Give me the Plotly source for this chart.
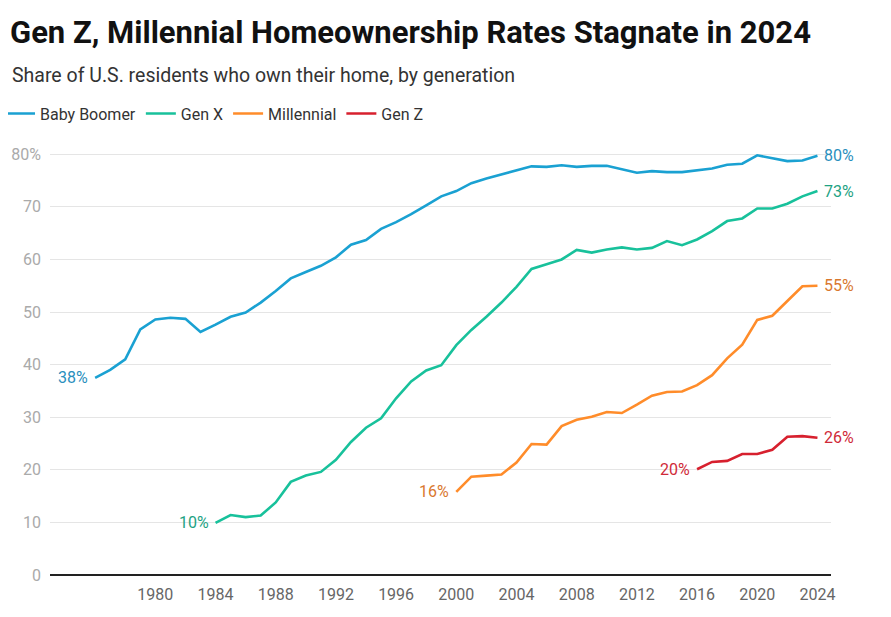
import plotly.graph_objects as go

# homeownership rate (%) by generation
boomer_years = list(range(1976, 2025))
boomer_rate = [
    37.5, 39.0, 41.0, 46.7, 48.6, 48.9, 48.7, 46.2, 47.6, 49.1,
    49.9, 51.8, 54.0, 56.4, 57.6, 58.8, 60.4, 62.8, 63.7, 65.8,
    67.1, 68.6, 70.3, 72.0, 73.0, 74.5, 75.4, 76.2, 77.0, 77.7,
    77.6, 77.9, 77.6, 77.8, 77.8, 77.1, 76.5, 76.8, 76.6, 76.6,
    77.0, 77.3, 78.0, 78.2, 79.8, 79.3, 78.7, 78.8, 79.7,
]

genx_years = list(range(1984, 2025))
genx_rate = [
    9.9, 11.4, 11.0, 11.3, 13.8, 17.7, 18.9, 19.6, 21.9, 25.3,
    28.0, 29.8, 33.6, 36.8, 38.9, 39.9, 43.7, 46.6, 49.1, 51.8,
    54.8, 58.2, 59.1, 60.0, 61.8, 61.3, 61.9, 62.3, 61.9, 62.2,
    63.5, 62.7, 63.8, 65.4, 67.3, 67.8, 69.7, 69.7, 70.6, 72.0,
    73.0,
]

millennial_years = list(range(2000, 2025))
millennial_rate = [
    15.8, 18.7, 18.9, 19.1, 21.4, 24.9, 24.8, 28.3, 29.5, 30.1,
    31.0, 30.8, 32.4, 34.1, 34.8, 34.9, 36.1, 38.0, 41.2, 43.8,
    48.5, 49.3, 52.1, 54.9, 55.0,
]

genz_years = list(range(2016, 2025))
genz_rate = [20.1, 21.5, 21.7, 23.0, 23.0, 23.8, 26.3, 26.4, 26.1]

series = [
    ("Baby Boomer", boomer_years, boomer_rate, "#1aa1d2", "#2a8fbd"),
    ("Gen X", genx_years, genx_rate, "#18c19b", "#1ea283"),
    ("Millennial", millennial_years, millennial_rate, "#ff8c2a", "#d9782e"),
    ("Gen Z", genz_years, genz_rate, "#d7202e", "#cf2a38"),
]

x_ticks = list(range(1980, 2025, 4))
y_ticks = [0, 10, 20, 30, 40, 50, 60, 70, 80]
y_ticktext = ["0", "10", "20", "30", "40", "50", "60", "70", "80%"]

fig = go.Figure()
for name, years, rate, color, label_color in series:
    fig.add_trace(
        go.Scatter(
            x=years, y=rate, mode="lines", name=name,
            line=dict(color=color, width=2.6),
        )
    )
    # start / end value labels
    fig.add_annotation(
        x=years[0], y=rate[0], text=f"{round(rate[0])}%", showarrow=False,
        xanchor="right", xshift=-5, font=dict(size=16, color=label_color),
    )
    fig.add_annotation(
        x=years[-1], y=rate[-1], text=f"{round(rate[-1])}%", showarrow=False,
        xanchor="left", xshift=5, font=dict(size=16, color=label_color),
    )

fig.add_annotation(
    xref="paper", yref="paper", x=-0.0515, y=1.173, xanchor="left", yanchor="middle",
    text="Share of U.S. residents who own their home, by generation",
    showarrow=False, font=dict(size=19.5, color="#333333"),
)

# page body has an 8px margin, so the figure is 8px smaller than the window
fig.update_layout(
    width=883,
    height=609,
    margin=dict(l=42, r=60, t=141, b=42, autoexpand=False),
    paper_bgcolor="white",
    plot_bgcolor="white",
    font=dict(family="Roboto", color="#333333"),
    title=dict(
        text="<b>Gen Z, Millennial Homeownership Rates Stagnate in 2024</b>",
        x=2 / 883, xref="container", xanchor="left",
        y=1 - 24 / 609, yref="container", yanchor="middle",
        font=dict(size=31, color="#111111"),
    ),
    legend=dict(
        orientation="h", x=-0.064, xanchor="left", y=1.083, yanchor="middle",
        font=dict(size=16, color="#333333"), itemwidth=30,
        traceorder="normal",
    ),
    showlegend=True,
    hovermode=False,
)
fig.update_xaxes(
    range=[1973, 2024.9], tickvals=x_ticks, showgrid=False,
    showline=False, zeroline=False, ticks="", automargin=False,
    ticklabelstandoff=8,
    tickfont=dict(size=16, color="#666666"),
)
fig.update_yaxes(
    range=[0, 81], tickvals=y_ticks, ticktext=y_ticktext,
    showgrid=True, gridcolor="#e5e5e5", gridwidth=1,
    zeroline=True, zerolinecolor="#222222", zerolinewidth=2,
    ticks="", ticklabelstandoff=8, automargin=False,
    tickfont=dict(size=16, color="#aaaaaa"),
)

fig.write_html("out.html")
